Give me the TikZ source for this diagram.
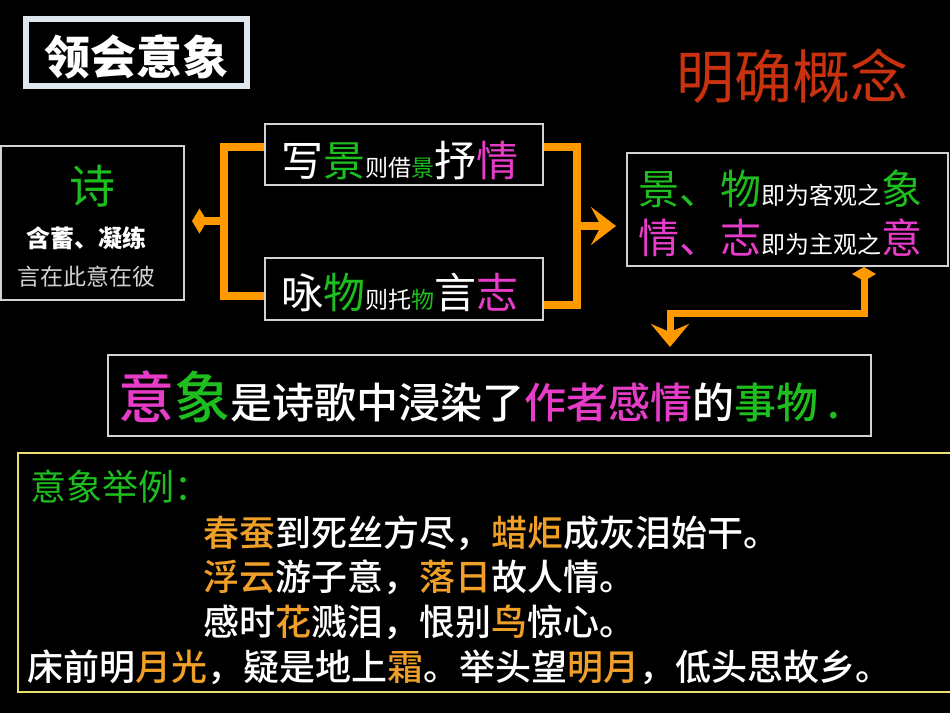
\documentclass[tikz,border=0pt]{standalone}
\usepackage{fontspec}
\setmainfont{Noto Sans CJK SC}
\newfontfamily\medfont{Noto Sans CJK SC}[UprightFont=* Medium]
\usetikzlibrary{arrows.meta,calc,positioning}

\definecolor{lnorange}{RGB}{255,153,0}
\definecolor{txgreen}{RGB}{30,190,30}
\definecolor{txpink}{RGB}{230,60,200}
\definecolor{txorange}{RGB}{240,160,40}
\definecolor{ttred}{RGB}{200,50,15}
\definecolor{boxgray}{RGB}{210,210,210}
\definecolor{boxyellow}{RGB}{230,225,110}
\definecolor{ttframe}{RGB}{222,230,238}

\newcommand{\setfs}[1]{\fontsize{#1}{#1}\selectfont}
\newcommand{\grn}[1]{\textcolor{txgreen}{#1}}
\newcommand{\pnk}[1]{\textcolor{txpink}{#1}}
\newcommand{\orn}[1]{\textcolor{txorange}{#1}}

\begin{document}
\begin{tikzpicture}[x=1pt, y=-1pt, every node/.style={inner sep=0pt, text=white},
    box/.style={draw=boxgray, line width=2pt},
    obrk/.style={draw=lnorange, line width=8pt}]
    % background
    \path[use as bounding box, fill=black] (0,0) rectangle (950,713);

    % title
    \node[draw=ttframe, line width=6pt, minimum width=221pt, minimum height=67pt] (ttl) at (136.5,52.5) {};
    \node[anchor=base] (ttltx) at (136,74) {\setfs{46}\bfseries 领会意象};
    \node[anchor=base, text=ttred] (cpt) at (792,98) {\setfs{58}明确概念};

    % poem box
    \node[box, minimum width=183pt, minimum height=154pt] (shi) at (92.5,223) {};
    \node[anchor=base, text=txgreen] (shitx) at (92,203) {\setfs{46}诗};
    \node[anchor=base] (shitx2) at (86,247) {\setfs{24}\bfseries 含蓄、凝练};
    \node[anchor=base, text=boxgray] (shitx3) at (86,285) {\setfs{23}言在此意在彼};

    % two ways
    \node[box, minimum width=278pt, minimum height=61pt] (xie) at (404,154.5) {};
    \node[anchor=base] (xietx) at (400,176) {\setfs{42}写\grn{景}\setfs{23}则借\grn{景}\setfs{42}抒\pnk{情}};
    \node[box, minimum width=278pt, minimum height=62pt] (yong) at (404,289) {};
    \node[anchor=base] (yongtx) at (400,308) {\setfs{42}咏\grn{物}\setfs{23}则托\grn{物}\setfs{42}言\pnk{志}};

    % object / subject
    \node[box, minimum width=321pt, minimum height=113pt] (ke) at (787.5,209.5) {};
    \node[anchor=base west] (ketx1) at (638,204) {\setfs{41}\grn{景、物}\setfs{24}即为客观之\setfs{41}\grn{象}};
    \node[anchor=base west] (ketx2) at (638,253) {\setfs{41}\pnk{情、志}\setfs{24}即为主观之\setfs{41}\pnk{意}};

    % definition
    \node[box, minimum width=763pt, minimum height=81pt] (yi) at (489.5,395.5) {};
    \node[anchor=base west] (yitx) at (118,418) {\medfont\setfs{56}\pnk{意}\grn{象}\setfs{42}是诗歌中浸染了\pnk{作者感情}的\grn{事物 .}};

    % examples
    \node[draw=boxyellow, line width=2pt, minimum width=940pt, minimum height=239pt] (li) at (488,572.5) {};
    \node[anchor=base west, text=txgreen] (litx0) at (30,500) {\setfs{36}意象举例：};
    \node[anchor=base west] (litx1) at (203,546) {\medfont\setfs{36}\orn{春蚕}到死丝方尽，\orn{蜡炬}成灰泪始干。};
    \node[anchor=base west] (litx2) at (203,590) {\medfont\setfs{36}\orn{浮云}游子意，\orn{落日}故人情。};
    \node[anchor=base west] (litx3) at (203,635) {\medfont\setfs{36}感时\orn{花}溅泪，恨别\orn{鸟}惊心。};
    \node[anchor=base west] (litx4) at (27,680) {\medfont\setfs{36}床前明\orn{月光}，疑是地上\orn{霜}。举头望\orn{明月}，低头思故乡。};

    % brackets
    \coordinate (lbr) at (224,221);
    \draw[obrk] ($(xie.west)+(0,-7.5)$) -| (lbr) |- ($(yong.west)+(0,7)$);
    \draw[obrk, -{Diamond[length=15pt,width=25pt]}, shorten >=7pt] (lbr) -- (lbr -| shi.east);

    \coordinate (rbr) at (577,226);
    \draw[obrk] ($(xie.east)+(0,-7.5)$) -| (rbr) |- ($(yong.east)+(0,16)$);
    \draw[obrk, -{Stealth[length=25pt,width=38pt,inset=10pt]}, shorten >=10pt] (rbr) -- (rbr -| ke.west);

    \coordinate (bend) at (670,313);
    \draw[obrk, line width=7pt, {Diamond[length=14pt,width=24pt]}-{Stealth[length=23pt,width=38pt,inset=8pt]}, shorten >=7pt]
        ($(ke.south)+(76.5,0)$) |- (bend) -- (bend |- yi.north);
\end{tikzpicture}
\end{document}
